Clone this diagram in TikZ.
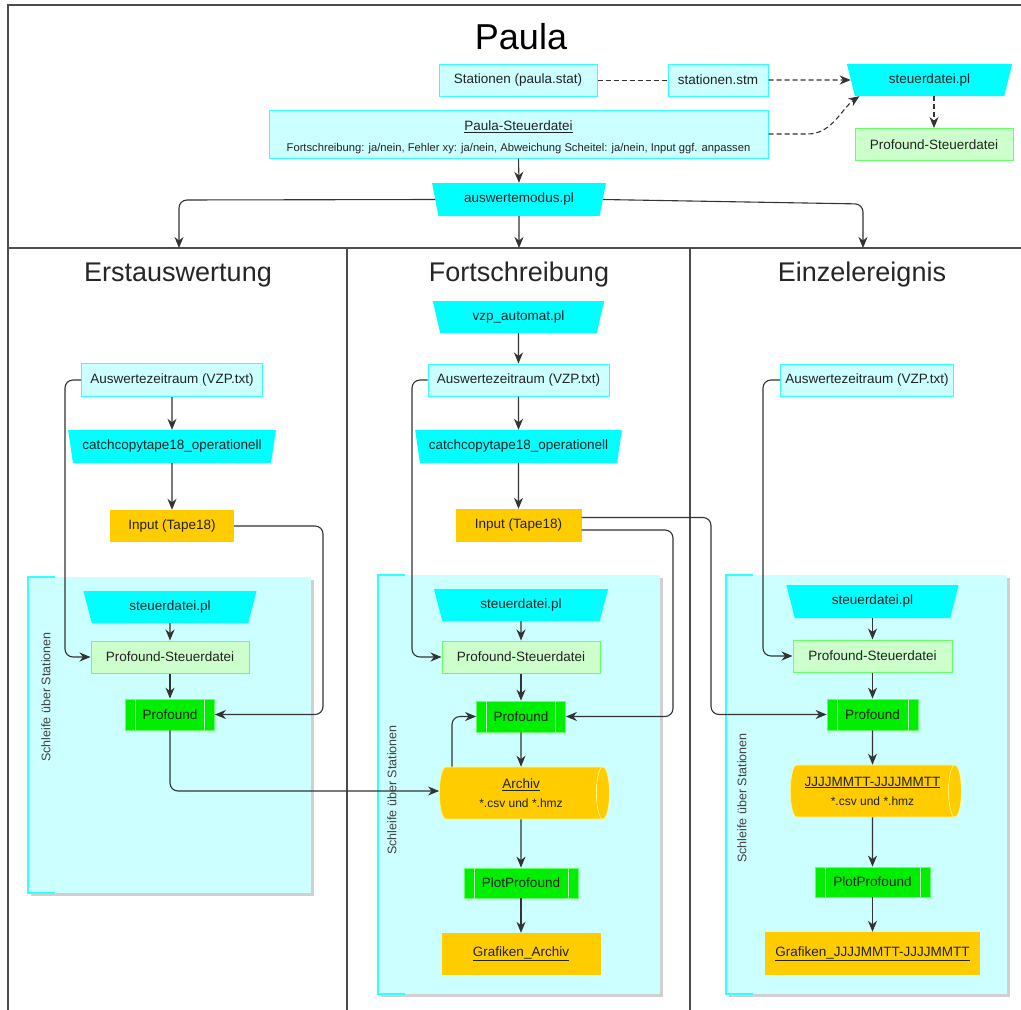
\documentclass[tikz,border=0pt]{standalone}
\usepackage{fontspec}
\setmainfont{Liberation Sans}
\usetikzlibrary{arrows.meta,shapes.geometric,shadows,calc}
\definecolor{lcyan}{HTML}{CCFFFF}
\definecolor{bcyan}{HTML}{33FFFF}
\definecolor{tcyan}{HTML}{00FFFF}
\definecolor{lgreen}{HTML}{CCFFCC}
\definecolor{bgreen}{HTML}{66FF66}
\definecolor{pgreen}{HTML}{00EE00}
\definecolor{orng}{HTML}{FFCC00}
\definecolor{txt}{HTML}{222222}
\definecolor{ln}{HTML}{333333}
\begin{document}
\begin{tikzpicture}[x=1pt,y=-1pt,
  every node/.style={text=txt, inner sep=0pt},
  base/.style={font=\fontsize{13.5}{16}\selectfont},
  filebox/.style={base, rectangle, fill=lcyan, draw=bcyan, line width=1pt},
  prog/.style={base, trapezium, shape border rotate=180, trapezium stretches=true,
    trapezium left angle=71, trapezium right angle=71, fill=tcyan, minimum height=33},
  ctrl/.style={base, rectangle, fill=lgreen, draw=bgreen, line width=1pt, minimum height=32},
  proc/.style={base, rectangle, fill=pgreen, draw=bgreen, line width=0.8pt, minimum height=31,
    path picture={\draw[line width=0.8pt, color=bgreen!35!white]
      ([xshift=10pt]path picture bounding box.north west) -- ([xshift=10pt]path picture bounding box.south west)
      ([xshift=-10pt]path picture bounding box.north east) -- ([xshift=-10pt]path picture bounding box.south east);}},
  datbox/.style={base, rectangle, fill=orng},
  db/.style={base, cylinder, shape border rotate=0, aspect=0.45, cylinder uses custom fill,
    cylinder body fill=orng, cylinder end fill=orng, draw=yellow!45!white, line width=0.6pt,
    minimum width=52, minimum height=170, align=center},
  loopbox/.style={rectangle, fill=lcyan, drop shadow={shadow xshift=3pt, shadow yshift=-3pt, opacity=0.3, fill=black!60}},
  loopedge/.style={draw=bcyan, line width=1.6pt},
  looplabel/.style={rotate=90, font=\fontsize{12.5}{14}\selectfont, text=black!75},
  frame/.style={draw=black!70, line width=2pt},
  conn/.style={draw=ln, line width=1.1pt, -{Stealth[length=11pt,width=9pt,inset=3.5pt]}},
  dconn/.style={conn, dash pattern=on 5pt off 3pt},
  dline/.style={draw=ln, line width=1pt, dash pattern=on 5pt off 3pt},
  title/.style={font=\fontsize{27}{30}\selectfont, text=black!85}
]
\useasboundingbox (0,0) rectangle (1021,1010);
\fill[white] (0,0) rectangle (1021,1010);

% frame
\draw[frame] (8,1012) -- (8,5) -- (1025,5);
\draw[frame] (8,248) -- (1025,248);
\draw[frame] (347,248) -- (347,1012);
\draw[frame] (690,248) -- (690,1012);

% loop containers
\node[loopbox, minimum width=283, minimum height=316] (loop1) at (169.5,735) {};
\node[loopbox, minimum width=282, minimum height=419] (loop2) at (519,784.5) {};
\node[loopbox, minimum width=281, minimum height=419] (loop3) at (866.5,784.5) {};
\foreach \L in {loop1,loop2,loop3}{
  \draw[loopedge] ($(\L.north west)+(27,0)$) -- (\L.north west) -- (\L.south west) -- ($(\L.south west)+(27,0)$);
}
\node[looplabel] (lab1) at (46,697) {Schleife über Stationen};
\node[looplabel] (lab2) at (392,790) {Schleife über Stationen};
\node[looplabel] (lab3) at (742,798) {Schleife über Stationen};

% top section
\node[font=\fontsize{36}{40}\selectfont, text=black] (paula) at (521,37) {Paula};
\node[filebox, minimum width=158, minimum height=32] (stat) at (518,80) {Stationen (paula.stat)};
\node[filebox, minimum width=100, minimum height=32] (stm) at (718,80) {stationen.stm};
\node[filebox, minimum width=499, minimum height=48, align=center, font=\fontsize{13.5}{21}\selectfont] (pst) at (518.5,134)
  {\rule{0pt}{17pt}\underline{Paula-Steuerdatei}\\{\fontsize{11.2}{21}\selectfont Fortschreibung: ja/nein, Fehler xy: ja/nein, Abweichung Scheitel: ja/nein, Input ggf. anpassen}};
\node[prog, minimum width=174] (mod) at (519,199.5) {auswertemodus.pl};
\node[prog, minimum width=166, minimum height=32] (stp) at (929.5,80) {steuerdatei.pl};
\node[ctrl, minimum width=158] (psd0) at (934,144.5) {Profound-Steuerdatei};

\node[title] (t1) at (178,275) {Erstauswertung};
\node[title] (t2) at (519,275) {Fortschreibung};
\node[title] (t3) at (862,275) {Einzelereignis};

\coordinate (e1) at (179,248);
\coordinate (e2) at (519,248);
\coordinate (e3) at (863,248);
\coordinate (stpbl) at ($(stp.south)+(-70,0)$);

% column 1
\node[filebox, minimum width=181, minimum height=33] (aus1) at (172,380) {Auswertezeitraum (VZP.txt)};
\node[prog, minimum width=208] (cc1) at (172,446.5) {catchcopytape18\_operationell};
\node[datbox, minimum width=124, minimum height=32] (in1) at (172,526) {Input (Tape18)};
\node[prog, minimum width=174, minimum height=32] (sp1) at (170,607) {steuerdatei.pl};
\node[ctrl, minimum width=158] (psd1) at (170,657) {Profound-Steuerdatei};
\node[proc, minimum width=89] (pr1) at (170,714.5) {Profound};

% column 2
\node[prog, minimum width=173, minimum height=32] (vzp) at (518.5,317) {vzp\_automat.pl};
\node[filebox, minimum width=181, minimum height=32] (aus2) at (518.5,380) {Auswertezeitraum (VZP.txt)};
\node[prog, minimum width=207] (cc2) at (518.5,446.5) {catchcopytape18\_operationell};
\node[datbox, minimum width=126, minimum height=33] (in2) at (518.5,525.5) {Input (Tape18)};
\node[prog, minimum width=175, minimum height=32] (sp2) at (521,605) {steuerdatei.pl};
\node[ctrl, minimum width=158] (psd2) at (521,657) {Profound-Steuerdatei};
\node[proc, minimum width=89] (pr2) at (521,716.5) {Profound};
\node[db] (arch) at (521,793) {\underline{Archiv}\\[3pt]{\fontsize{12}{14}\selectfont *.csv und *.hmz}};
\node[proc, minimum width=114, minimum height=30] (pp2) at (521,883) {PlotProfound};
\node[datbox, minimum width=159, minimum height=42] (gr2) at (521,954) {\underline{Grafiken\_Archiv}};

% column 3
\node[filebox, minimum width=173, minimum height=32] (aus3) at (867,380) {Auswertezeitraum (VZP.txt)};
\node[prog, minimum width=173, minimum height=33] (sp3) at (872.5,601.5) {steuerdatei.pl};
\node[ctrl, minimum width=159] (psd3) at (872.5,656) {Profound-Steuerdatei};
\node[proc, minimum width=91] (pr3) at (872.5,714.5) {Profound};
\node[db, minimum height=171] (jj) at (872.5,791) {\underline{JJJJMMTT-JJJJMMTT}\\[3pt]{\fontsize{12}{14}\selectfont *.csv und *.hmz}};
\node[proc, minimum width=115, minimum height=30] (pp3) at (872.5,882) {PlotProfound};
\node[datbox, minimum width=215, minimum height=43] (gr3) at (872.5,953.5) {\underline{Grafiken\_JJJJMMTT-JJJJMMTT}};

% top connectors
\draw[dline] (stat.east) -- (stm.west);
\draw[dconn] (stm.east) -- (stp.west);
\draw[dconn] (pst.east) -- (808,134) .. controls (832,134) and (842,108) .. (stpbl);
\draw[dconn] (psd0.north |- stp.south) -- (psd0.north);
\draw[conn] (pst.south) -- (mod.north);
\draw[conn, rounded corners=8] (mod.west) -- (179,200) -- (e1);
\draw[conn] (mod.south) -- (e2);
\draw[conn, rounded corners=8] (mod.east) -- (863,204) -- (e3);

% column 1 connectors
\draw[conn] (aus1) -- (cc1);
\draw[conn] (cc1) -- (in1);
\draw[conn] (sp1) -- (psd1);
\draw[conn] (psd1) -- (pr1);
\draw[conn, rounded corners=8] (aus1.west) -- (65,380) -- (65,657) -- (psd1.west);
\draw[conn, rounded corners=8] (in1.east) -- (323,526) -- (323,714.5) -- (pr1.east);
\draw[conn, rounded corners=8] (pr1.south) -- (170,791) -- (arch.west |- 0,791);

% column 2 connectors
\draw[conn] (vzp) -- (aus2);
\draw[conn] (aus2) -- (cc2);
\draw[conn] (cc2) -- (in2);
\draw[conn] (sp2) -- (psd2);
\draw[conn] (psd2) -- (pr2);
\draw[conn] (pr2) -- (arch);
\draw[conn] (arch) -- (pp2);
\draw[conn] (pp2) -- (gr2);
\draw[conn, rounded corners=8] (aus2.west) -- (412,380) -- (412,657) -- (psd2.west);
\draw[conn, rounded corners=8] ($(in2.east)+(0,4.5)$) -- (673,530) -- (673,716.5) -- (pr2.east);
\draw[conn, rounded corners=8] ($(in2.east)+(0,-8)$) -- (711,517.5) -- (711,714.5) -- (pr3.west);
\draw[conn, rounded corners=8] ($(arch.north)+(-69,0)$) -- (452,716.5) -- (pr2.west);

% column 3 connectors
\draw[conn] (sp3) -- (psd3);
\draw[conn] (psd3) -- (pr3);
\draw[conn] (pr3) -- (jj);
\draw[conn] (jj) -- (pp3);
\draw[conn] (pp3) -- (gr3);
\draw[conn, rounded corners=8] (aus3.west) -- (763,380) -- (763,656) -- (psd3.west);
\end{tikzpicture}
\end{document}
